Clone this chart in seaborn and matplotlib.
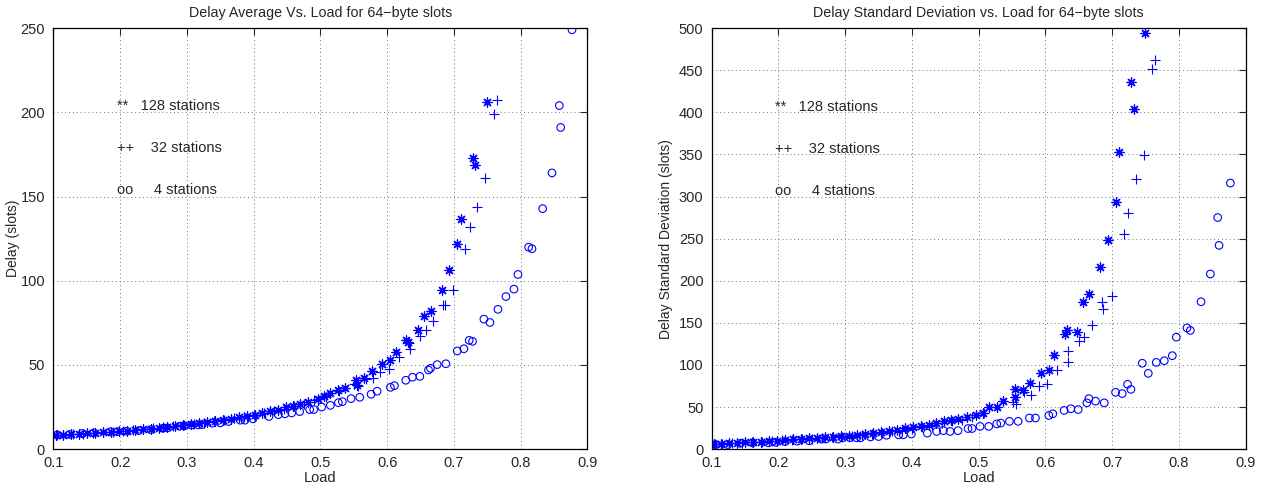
import matplotlib
matplotlib.use("Agg")
import matplotlib.pyplot as plt
import seaborn as sns

# 128 stations: load, mean delay, delay std
load_128 = [0.749, 0.732, 0.728, 0.710, 0.705, 0.693, 0.682, 0.665, 0.656, 0.647,
            0.632, 0.629, 0.613, 0.605, 0.593, 0.577, 0.566, 0.554, 0.555, 0.537,
            0.527, 0.515, 0.506, 0.496, 0.482, 0.469, 0.459, 0.448, 0.436, 0.425,
            0.413, 0.402, 0.390, 0.378, 0.366, 0.354, 0.342, 0.330, 0.318, 0.306,
            0.294, 0.282, 0.270, 0.258, 0.246, 0.234, 0.222, 0.210, 0.198, 0.186,
            0.174, 0.162, 0.150, 0.138, 0.126, 0.114, 0.104]
avg_128 = [206, 169, 173, 136.5, 121.6, 106.4, 94.6, 82, 79, 71,
           63.6, 64.6, 57.7, 52.7, 50.4, 46.2, 42.3, 40.9, 38.3, 36.5,
           35, 33.4, 31.4, 30, 28, 26.9, 25.8, 24.8, 23.5, 22.5,
           21.5, 20.5, 19.6, 18.8, 18, 17.3, 16.6, 16, 15.4, 14.8,
           14.3, 13.7, 13.2, 12.7, 12.2, 11.8, 11.3, 10.9, 10.5, 10.2,
           9.9, 9.6, 9.3, 9.0, 8.8, 8.6, 8.4]
std_128 = [494, 404, 436, 353, 293, 248, 216, 184, 175, 139,
           141, 137, 112, 94, 91, 79, 70, 71, 62, 57,
           50, 50, 43, 41, 38, 36, 35, 33, 31, 29,
           28, 26, 25, 23, 22, 20, 19, 18, 17, 16,
           15.5, 15, 14, 13.5, 13, 12, 11.5, 11, 10, 9.5,
           9, 8.5, 8, 7.5, 7, 6.5, 6]

# 32 stations
load_32 = [0.764, 0.760, 0.747, 0.735, 0.724, 0.717, 0.699, 0.686, 0.684, 0.669,
           0.658, 0.650, 0.633, 0.634, 0.618, 0.603, 0.590, 0.579, 0.568, 0.556,
           0.551, 0.528, 0.508, 0.490, 0.475, 0.460, 0.445, 0.430, 0.415, 0.400,
           0.385, 0.370, 0.355, 0.340, 0.325, 0.310, 0.295, 0.280, 0.265, 0.250,
           0.235, 0.220, 0.205, 0.190, 0.175, 0.160, 0.145, 0.130, 0.115, 0.105]
avg_32 = [207.5, 198.7, 160.7, 144, 132, 118.9, 94.6, 85.5, 85.5, 75.8,
          71, 67, 63, 59.6, 54.5, 47.8, 45.8, 42.3, 41.5, 37.3,
          38.5, 34.5, 31, 29, 27, 25.5, 24, 22.8, 21.6, 20.3,
          19.2, 18.2, 17.3, 16.5, 15.7, 15, 14.3, 13.6, 13, 12.4,
          11.9, 11.3, 10.8, 10.3, 9.9, 9.5, 9.1, 8.8, 8.5, 8.4]
std_32 = [462, 451, 349, 321, 281, 255, 182, 166, 175, 148,
          133, 128, 116, 103, 94, 77, 75, 64, 68, 54,
          56, 50, 43, 38, 35, 33, 31, 28, 26, 24,
          22, 21, 19.5, 18, 17, 16, 15, 14, 13, 12.5,
          12, 11, 10.5, 9.5, 9, 8.5, 7.5, 7, 6.5, 6]

# 4 stations
load_4 = [0.877, 0.860, 0.858, 0.847, 0.833, 0.812, 0.817, 0.796, 0.790, 0.778,
          0.766, 0.745, 0.754, 0.728, 0.723, 0.715, 0.705, 0.688, 0.675, 0.665,
          0.662, 0.649, 0.638, 0.628, 0.611, 0.605, 0.585, 0.576, 0.559, 0.546,
          0.533, 0.527, 0.515, 0.502, 0.490, 0.484, 0.469, 0.457, 0.447, 0.437,
          0.423, 0.399, 0.387, 0.380, 0.362, 0.350, 0.338, 0.323, 0.317, 0.307,
          0.296, 0.289, 0.271, 0.264, 0.246, 0.228, 0.210, 0.196, 0.185, 0.161,
          0.143, 0.124, 0.106]
avg_4 = [249, 191, 204, 164, 142.8, 119.9, 119, 103.7, 95, 90.6,
         83, 77.2, 75.2, 64, 64.6, 59.6, 58.3, 50.7, 50.2, 48,
         47, 43.2, 42.7, 40.9, 37.7, 36.7, 34.4, 32.6, 30.8, 30,
         28.2, 27.6, 26, 25, 23.5, 23.5, 22.3, 21.5, 21, 20.5,
         19.4, 18, 17.2, 17.2, 16.4, 15.6, 15.4, 14.6, 14.4, 14.2,
         13.9, 13.6, 12.6, 12.4, 11.6, 11, 10.7, 10.4, 10.3, 9.7,
         9.3, 8.7, 8.5]
std_4 = [316, 242, 275, 208, 175, 144, 141, 133, 111, 105,
         103, 102, 90, 71, 77, 66, 67.5, 55, 57, 60,
         55, 47, 48, 46, 42, 40, 37, 37, 33, 33,
         31, 30, 27, 27, 24.5, 24.5, 22, 21, 22, 21,
         19, 18, 17, 17, 16.5, 15, 14.5, 13.5, 13.5, 13.5,
         13.5, 12, 12, 12, 10, 9.5, 9, 8, 7.5, 7.5,
         7, 5.5, 5.5]

labels = ['**   128 stations', '++    32 stations', 'oo     4 stations']
x_ticks = [0.1, 0.2, 0.3, 0.4, 0.5, 0.6, 0.7, 0.8, 0.9]

sns.set_style('white')
plt.rcParams['font.family'] = ['Liberation Sans', 'DejaVu Sans']
plt.rcParams['font.size'] = 10

fig = plt.figure(figsize=(12.61, 4.84), dpi=100)
ax1 = fig.add_axes([0.0423, 0.072, 0.4235, 0.870])
ax2 = fig.add_axes([0.5644, 0.072, 0.4235, 0.870])

blue = (0, 0, 1)


def draw(ax, y128, y32, y4, ymax, ystep, text_y, title, ylabel, ylpad):
    sns.scatterplot(x=load_4, y=y4, ax=ax, marker='o', s=30,
                    facecolor='none', edgecolor=blue, linewidth=0.8)
    sns.scatterplot(x=load_32, y=y32, ax=ax, marker='+', s=42,
                    color=blue, linewidth=0.8)
    sns.scatterplot(x=load_128, y=y128, ax=ax, marker=(8, 2, 0), s=42,
                    color=blue, linewidth=0.9)
    ax.set_xlim(0.1, 0.9)
    ax.set_ylim(0, ymax)
    ax.set_xticks(x_ticks)
    ax.set_xticklabels([f'{t:g}' for t in x_ticks])
    ax.set_yticks(range(0, ymax + 1, ystep))
    ax.grid(True, color='0.45', linestyle=(0, (1, 3)), linewidth=0.7)
    ax.tick_params(direction='in', length=5, top=True, right=True,
                   labelsize=10.5, width=0.8)
    ax.tick_params(axis='y', pad=6)
    ax.tick_params(axis='x', pad=5)
    for sp in ax.spines.values():
        sp.set_visible(True)
        sp.set_color('black')
        sp.set_linewidth(0.9)
    ax.set_title(title, fontsize=10.3, pad=8)
    ax.set_xlabel('Load', fontsize=10.5, labelpad=1)
    ax.set_ylabel(ylabel, fontsize=10, labelpad=ylpad)
    for lab, ty in zip(labels, text_y):
        ax.text(0.195, ty, lab, fontsize=10.5, va='center', ha='left')


draw(ax1, avg_128, avg_32, avg_4, 250, 50, [204, 179, 154],
     'Delay Average Vs. Load for 64\u2212byte slots', 'Delay (slots)', 0)
draw(ax2, std_128, std_32, std_4, 500, 50, [406, 356, 306],
     'Delay Standard Deviation vs. Load for 64\u2212byte slots',
     'Delay Standard Deviation (slots)', 4)

fig.savefig('out.png', dpi=100)
